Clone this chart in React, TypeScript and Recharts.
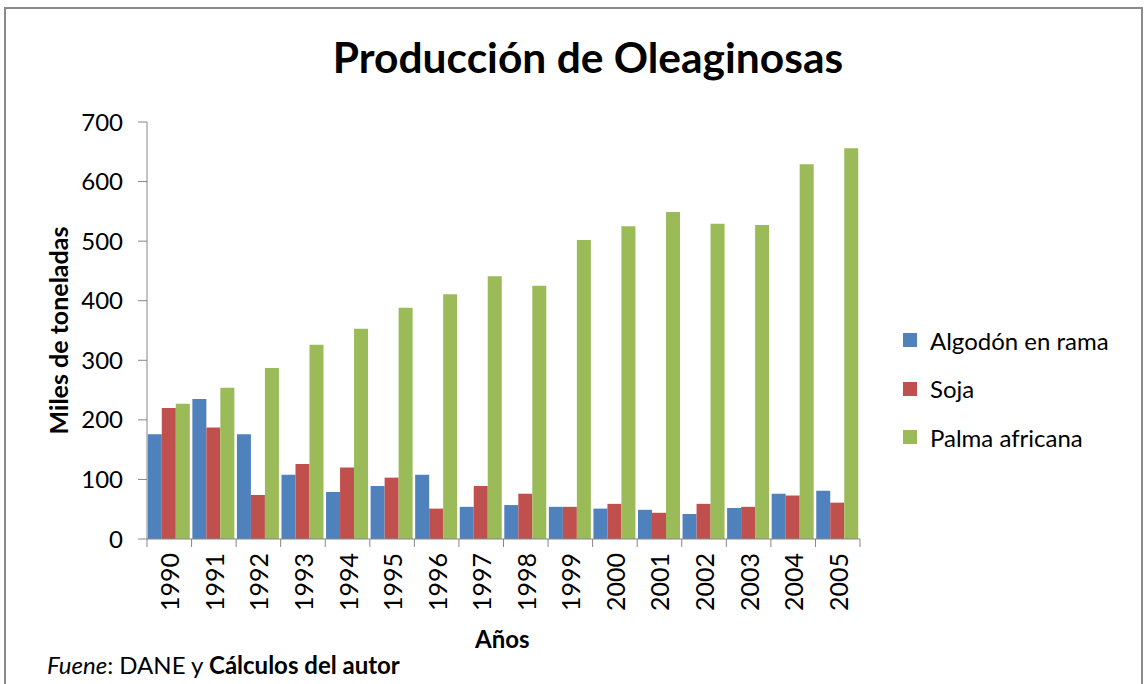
import { Bar, BarChart, Legend, XAxis, YAxis } from 'recharts';

const years = ['1990', '1991', '1992', '1993', '1994', '1995', '1996', '1997', '1998', '1999', '2000', '2001', '2002', '2003', '2004', '2005'];
const algodon = [176, 235, 176, 108, 79, 89, 108, 54, 57, 54, 51, 49, 42, 52, 76, 81];
const soja = [220, 187, 74, 126, 120, 103, 51, 89, 76, 54, 59, 44, 59, 54, 73, 61];
const palma = [227, 254, 287, 326, 353, 388, 411, 441, 425, 502, 525, 549, 529, 527, 629, 656];
const yTicks = [0, 100, 200, 300, 400, 500, 600, 700];

const series = [
  { key: 'algodon', name: 'Algodón en rama', color: '#4F81BD' },
  { key: 'soja', name: 'Soja', color: '#C0504D' },
  { key: 'palma', name: 'Palma africana', color: '#9BBB59' },
];

const data = years.map((year, i) => ({
  year,
  algodon: algodon[i],
  soja: soja[i],
  palma: palma[i],
}));

const font = 'Lato, "Open Sans", sans-serif';
const axisColor = '#868686';
const labelGap = 14;

// year label rotated, plus the Excel-style tick marks at the category edges
function YearTick({ x, y, payload, index, visibleTicksCount }: any) {
  const half = payload.offset ?? 0;
  const axisY = y - labelGap;
  const last = index === visibleTicksCount - 1;
  return (
    <g>
      <line x1={x - half} x2={x - half} y1={axisY} y2={axisY + 8} stroke={axisColor} />
      {last && <line x1={x + half} x2={x + half} y1={axisY} y2={axisY + 8} stroke={axisColor} />}
      <text x={x} y={y} transform={`rotate(-90, ${x}, ${y})`} textAnchor="end" dominantBaseline="central"
        fontFamily={font} fontSize={25} fill="#000">
        {payload.value}
      </text>
    </g>
  );
}

function YLabel({ viewBox }: any) {
  const cx = 58;
  const cy = viewBox.y + viewBox.height / 2;
  return (
    <text x={cx} y={cy} transform={`rotate(-90, ${cx}, ${cy})`} textAnchor="middle" dominantBaseline="central"
      fontFamily={font} fontSize={25} fontWeight="bold" fill="#000">
      Miles de toneladas
    </text>
  );
}

function LegendBox() {
  return (
    <div style={{ fontFamily: font, fontSize: 24 }}>
      {series.map((s) => (
        <div key={s.key} style={{ display: 'flex', alignItems: 'center', height: 48.5 }}>
          <span style={{ width: 14, height: 14, background: s.color, marginRight: 13 }} />
          <span>{s.name}</span>
        </div>
      ))}
    </div>
  );
}

export default function App() {
  return (
    <div style={{ position: 'absolute', left: 0, top: 0, width: 1144, height: 684, background: '#fff', overflow: 'hidden' }}>
      <div style={{ position: 'absolute', left: 4, top: 7, width: 1135, height: 720, border: '2px solid #8a8a8a' }} />
      <div style={{ position: 'absolute', left: 0, top: 31, width: 1176, textAlign: 'center', fontFamily: font, fontWeight: 'bold', fontSize: 42.5 }}>
        Producción de Oleaginosas
      </div>
      <BarChart width={1144} height={684} data={data} margin={{ top: 122, right: 284, bottom: 75, left: 20 }}
        barCategoryGap={0.8} barGap={0} style={{ position: 'absolute', left: 0, top: 0 }}>
        <YAxis domain={[0, 700]} ticks={yTicks} width={127} tickSize={9} tickMargin={15}
          tick={{ fill: '#000', fontSize: 24, fontFamily: font }} axisLine={{ stroke: axisColor }} tickLine={{ stroke: axisColor }}
          label={<YLabel />} />
        <XAxis dataKey="year" height={70} tickLine={false} tickSize={0} tickMargin={labelGap} interval={0}
          axisLine={{ stroke: axisColor }} tick={<YearTick />} />
        {series.map((s) => (
          <Bar key={s.key} dataKey={s.key} name={s.name} fill={s.color} isAnimationActive={false} />
        ))}
        <Legend content={<LegendBox />} layout="vertical" align="center" verticalAlign="middle"
          wrapperStyle={{ position: 'absolute', left: 903, top: 316, width: 240 }} />
      </BarChart>
      <div style={{ position: 'absolute', left: 475, top: 624, fontFamily: font, fontWeight: 'bold', fontSize: 24 }}>Años</div>
      <div style={{ position: 'absolute', left: 47, top: 650, fontFamily: font, fontSize: 24 }}>
        <i>Fuene</i>: DANE y <b>Cálculos del autor</b>
      </div>
    </div>
  );
}
